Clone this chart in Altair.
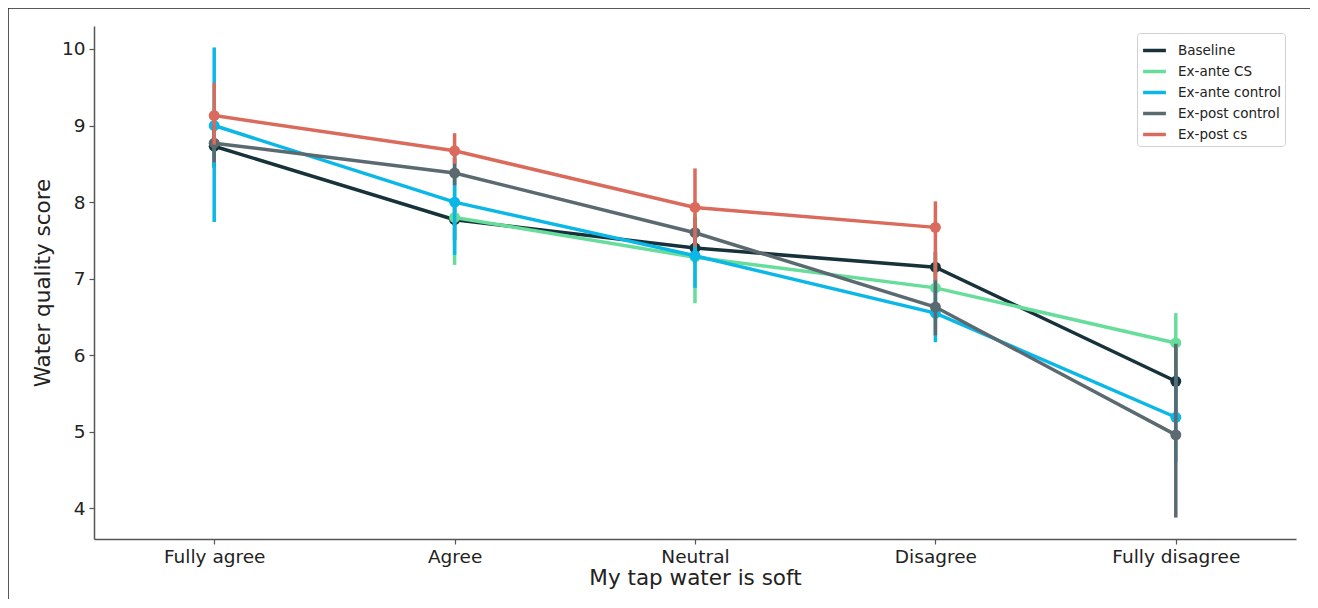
import altair as alt
import pandas as pd

categories = ["Fully agree", "Agree", "Neutral", "Disagree", "Fully disagree"]
series_names = ["Baseline", "Ex-ante CS", "Ex-ante control", "Ex-post control", "Ex-post cs"]
series_colors = ["#17323a", "#66dd9b", "#0ab7e6", "#5b6a70", "#da6b5c"]

baseline_mean = [8.73, 7.77, 7.40, 7.15, 5.66]
baseline_lo = [8.45, 7.50, 7.20, 6.95, 5.20]
baseline_hi = [9.00, 8.05, 7.60, 7.35, 6.10]

exante_cs_mean = [None, 7.80, 7.28, 6.88, 6.16]
exante_cs_lo = [None, 7.18, 6.68, 6.45, 5.75]
exante_cs_hi = [None, 8.30, 7.85, 7.30, 6.55]

exante_ctrl_mean = [9.00, 8.00, 7.30, 6.55, 5.19]
exante_ctrl_lo = [7.74, 7.31, 6.88, 6.17, 4.60]
exante_ctrl_hi = [10.02, 8.60, 7.70, 6.90, 5.75]

expost_ctrl_mean = [8.77, 8.38, 7.60, 6.63, 4.96]
expost_ctrl_lo = [8.52, 8.22, 7.45, 6.26, 3.88]
expost_ctrl_hi = [9.00, 8.58, 7.80, 6.98, 6.15]

expost_cs_mean = [9.13, 8.67, 7.93, 7.67, None]
expost_cs_lo = [8.75, 8.50, 7.42, 6.98, None]
expost_cs_hi = [9.56, 8.90, 8.44, 8.01, None]

y_ticks = [4, 5, 6, 7, 8, 9, 10]

all_series = [
    (baseline_mean, baseline_lo, baseline_hi),
    (exante_cs_mean, exante_cs_lo, exante_cs_hi),
    (exante_ctrl_mean, exante_ctrl_lo, exante_ctrl_hi),
    (expost_ctrl_mean, expost_ctrl_lo, expost_ctrl_hi),
    (expost_cs_mean, expost_cs_lo, expost_cs_hi),
]

FONT = "DejaVu Sans"
W, H = 1202, 513
y_scale = alt.Scale(domain=[3.6, 10.3], nice=False, zero=False)

x_enc = alt.X("cat:N", sort=categories,
              scale=alt.Scale(domain=categories, type="point", padding=0.5),
              axis=alt.Axis(title="My tap water is soft", labelAngle=0))
y_enc = alt.Y("mean:Q", scale=y_scale,
              axis=alt.Axis(title="Water quality score", values=y_ticks, format="d", grid=False))
legend = alt.Legend(title=None, orient="none", legendX=1043, legendY=7,
                    symbolType="stroke", symbolStrokeWidth=3.5, symbolSize=520,
                    labelFont=FONT, labelFontSize=13.5, labelColor="#222",
                    rowPadding=0, padding=4, strokeColor="#d0d0d0",
                    cornerRadius=3, fillColor="white", labelOffset=10)
color_scale = alt.Scale(domain=series_names, range=series_colors)

layers = []
for name, (m, lo, hi) in zip(series_names, all_series):
    rows = [
        {"cat": c, "series": name, "mean": mv, "lo": lv, "hi": hv}
        for c, mv, lv, hv in zip(categories, m, lo, hi) if mv is not None
    ]
    df = pd.DataFrame(rows)
    base = alt.Chart(df)
    col = alt.Color("series:N", scale=color_scale, legend=legend)
    rules = base.mark_rule(strokeWidth=3.5).encode(
        x=x_enc, y=alt.Y("lo:Q", scale=y_scale), y2="hi:Q", color=col)
    line = base.mark_line(strokeWidth=3.5).encode(x=x_enc, y=y_enc, color=col)
    pts = base.mark_circle(size=120, opacity=1).encode(x=x_enc, y=y_enc, color=col)
    layers += [rules, line, pts]

frame_top = alt.Chart(pd.DataFrame({"a": [0]})).mark_rule(color="#222", strokeWidth=1.5).encode(
    x=alt.value(-86), x2=alt.value(W + 40), y=alt.value(-18))
frame_left = alt.Chart(pd.DataFrame({"a": [0]})).mark_rule(color="#222", strokeWidth=1.5).encode(
    x=alt.value(-86), y=alt.value(-18), y2=alt.value(H + 80))

chart = alt.layer(*layers, frame_top, frame_left).properties(
    width=W, height=H,
    autosize=alt.AutoSizeParams(type="none"),
    padding={"left": 86, "top": 18, "right": 14, "bottom": 60},
).configure_view(stroke=None).configure_axis(
    domainColor="#555", domainWidth=1.5, tickColor="#555", tickWidth=1.2, tickSize=5,
    labelFont=FONT, labelFontSize=18.5, labelColor="#222",
    titleFont=FONT, titleFontSize=21.5, titleFontWeight="normal", titleColor="#222",
).configure_axisX(labelPadding=3, titlePadding=2).configure_axisY(labelPadding=4, titlePadding=7)

chart.save("out.html", embed_options={"renderer": "svg", "actions": False})
